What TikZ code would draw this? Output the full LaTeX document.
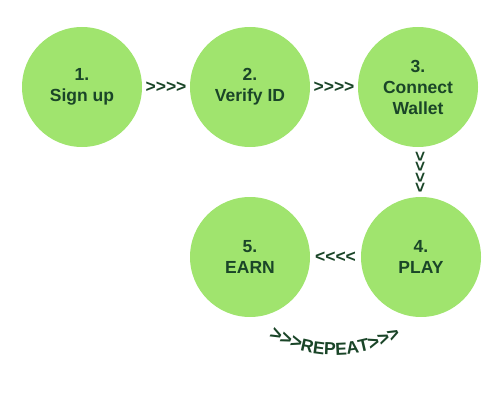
\documentclass[tikz,border=0pt]{standalone}
\usepackage{fontspec}
\setmainfont{Liberation Sans}[Ligatures=TeXOff]
\usetikzlibrary{calc,decorations.text}
\definecolor{stepfill}{HTML}{A0E46E}
\definecolor{steptext}{HTML}{1A4528}
\begin{document}
\begin{tikzpicture}[x=1pt,y=1pt,
  stepcircle/.style={circle,fill=stepfill,minimum size=120pt,inner sep=0pt,align=center,text=steptext,font=\fontsize{17.5}{21}\selectfont\bfseries},
  chevrons/.style={text=steptext,font=\fontsize{17.5}{21}\selectfont\bfseries,inner sep=0pt}]
\useasboundingbox (0,0) rectangle (500,400);
\node[stepcircle] (c1) at (82,313) {1.\\Sign up};
\node[stepcircle] (c2) at (250,313) {2.\\Verify ID};
\node[stepcircle] (c3) at (418,313) {3.\\Connect\\Wallet};
\node[stepcircle] (c5) at (250,143) {5.\\EARN};
\node[stepcircle] (c4) at (421,143) {4.\\PLAY};
\node[chevrons] (a12) at ($(c1)!0.5!(c2)$) {>>>>};
\node[chevrons] (a23) at ($(c2)!0.5!(c3)$) {>>>>};
\node[chevrons,rotate=-90] (a34) at ($(c3)!0.5!(c4)$) {>>>>};
\node[chevrons] (a45) at ($(c4)!0.5!(c5)$) {<<<<};
\coordinate (rc) at (335,177.5);
\path[decorate,decoration={text along path,text align=center,text color=steptext,
  text={|\fontsize{19.5}{21}\selectfont\bfseries|>>>|\fontsize{17.5}{21}\selectfont\bfseries|REPEAT|\fontsize{19.5}{21}\selectfont\bfseries|>>>}}]
  (rc) ++(234:132.5) arc[start angle=234,end angle=306,radius=132.5];
\end{tikzpicture}
\end{document}
